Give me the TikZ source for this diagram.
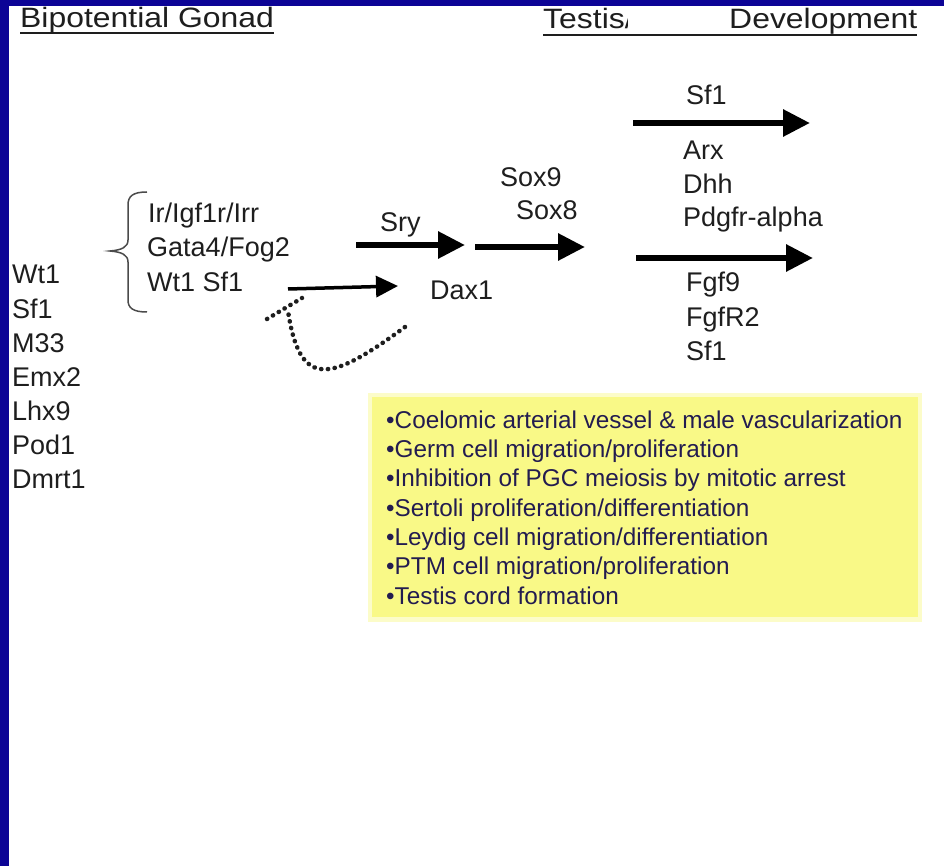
\documentclass[tikz,border=0pt]{standalone}
\usepackage{fontspec}
\setmainfont{Liberation Sans}
\usetikzlibrary{arrows.meta}
\definecolor{navy}{RGB}{12,4,150}
\definecolor{ink}{RGB}{30,30,30}
\definecolor{boxy}{RGB}{249,249,135}
\definecolor{boxink}{RGB}{35,28,80}
\begin{document}
\begin{tikzpicture}[x=1pt,y=-1pt,
  lbl/.style={inner sep=0pt, anchor=base west, text=ink, font=\fontsize{27}{34}\selectfont},
  ttl/.style={inner sep=0pt, anchor=base west, text=ink, font=\fontsize{28}{34}\selectfont},
  boxtxt/.style={inner sep=0pt, anchor=base west, text=boxink, font=\fontsize{24.3}{29}\selectfont},
  bigarrow/.style={line width=6pt, draw=black, -{Triangle[length=27pt,width=26pt]}},
  thinarrow/.style={line width=3.5pt, draw=black, -{Triangle[length=22pt,width=21pt]}},
  dots/.style={line width=4.5pt, line cap=round, dash pattern=on 0.3pt off 6.5pt, draw=ink},
  bracepath/.style={line width=1.5pt, draw=ink!80}
  ]
\useasboundingbox (0,0) rectangle (944,866);
\fill[white] (0,0) rectangle (944,866);
\fill[navy] (0,0) rectangle (944,6);
\fill[navy] (0,0) rectangle (9,866);

% titles
\node[ttl] (t1) at (20,28) {\scalebox{1.14}[1]{Bipotential Gonad}};
\node[ttl] (t2) at (543,29) {\scalebox{1.14}[1]{Testis/}};
\node[ttl] (t3) at (729,29) {\scalebox{1.14}[1]{Development}};
\fill[white] (628,6) rectangle (721,33);
\draw[line width=2pt, ink] ([yshift=-5pt]t1.base west) -- ([yshift=-5pt]t1.base east);
\draw[line width=2pt, ink] ([yshift=-6pt]t2.base west) -- ([yshift=-6pt]t3.base east);

% left gene list
\foreach \t [count=\i] in {Wt1,Sf1,M33,Emx2,Lhx9,Pod1,Dmrt1}
  \node[lbl] (g\i) at (12,250+34*\i) {\t};

% brace and its list
\draw[bracepath] (147,192) .. controls (133,192) and (128,196) .. (128,205) -- (128,240)
  .. controls (128,247) and (122,250) .. (110,251)
  .. controls (122,252) and (128,255) .. (128,262) -- (128,300)
  .. controls (128,308) and (133,312) .. (147,312);
\node[lbl] (b1) at (148,223) {Ir/Igf1r/Irr};
\node[lbl] (b2) at (147,257) {Gata4/Fog2};
\node[lbl] (b3) at (147,291) {Wt1 Sf1};

% middle pathway
\node[lbl] (sry) at (380,232) {Sry};
\coordinate (srys) at (356,245);
\coordinate (srye) at (465,245);
\draw[bigarrow] (srys) -- (srye);
\node[lbl] (sox9) at (500,187) {Sox9};
\node[lbl] (sox8) at (516,220) {Sox8};
\coordinate (soxs) at (475,247);
\coordinate (soxe) at (585,247);
\draw[bigarrow] (soxs) -- (soxe);
\node[lbl] (dax1) at (430,300) {Dax1};
\coordinate (daxs) at (288,289);
\coordinate (daxe) at (398,286);
\draw[thinarrow] (daxs) -- (daxe);

% inhibition (dotted)
\coordinate (barA) at (267,319);
\coordinate (barB) at (302,298);
\draw[dots] (barA) -- (barB);
\coordinate (inhS) at (288,311);
\coordinate (inhE) at (405,327);
\draw[dots] (inhE) .. controls (330,382) and (300,390) .. (inhS);

% right side
\node[lbl] (sf1a) at (686,105) {Sf1};
\coordinate (r1s) at (633,123);
\coordinate (r1e) at (810,123);
\draw[bigarrow] (r1s) -- (r1e);
\node[lbl] (arx) at (683,160) {Arx};
\node[lbl] (dhh) at (683,194) {Dhh};
\node[lbl] (pdg) at (683,227) {Pdgfr-alpha};
\coordinate (r2s) at (636,258);
\coordinate (r2e) at (813,258);
\draw[bigarrow] (r2s) -- (r2e);
\node[lbl] (fgf9) at (686,292) {Fgf9};
\node[lbl] (fgfr2) at (686,326) {FgfR2};
\node[lbl] (sf1b) at (686,360) {Sf1};

% yellow box
\fill[boxy!45] (368,393) rectangle (922,622);
\node[fill=boxy, inner sep=0pt, minimum width=546pt, minimum height=220pt, anchor=north west] (box) at (372,397) {};
\foreach \t [count=\i] in {Coelomic arterial vessel \& male vascularization,
  Germ cell migration/proliferation,
  Inhibition of PGC meiosis by mitotic arrest,
  Sertoli proliferation/differentiation,
  Leydig cell migration/differentiation,
  PTM cell migration/proliferation,
  Testis cord formation}
  \node[boxtxt] (l\i) at (386,399+29.3*\i) {•\t};
\end{tikzpicture}
\end{document}
